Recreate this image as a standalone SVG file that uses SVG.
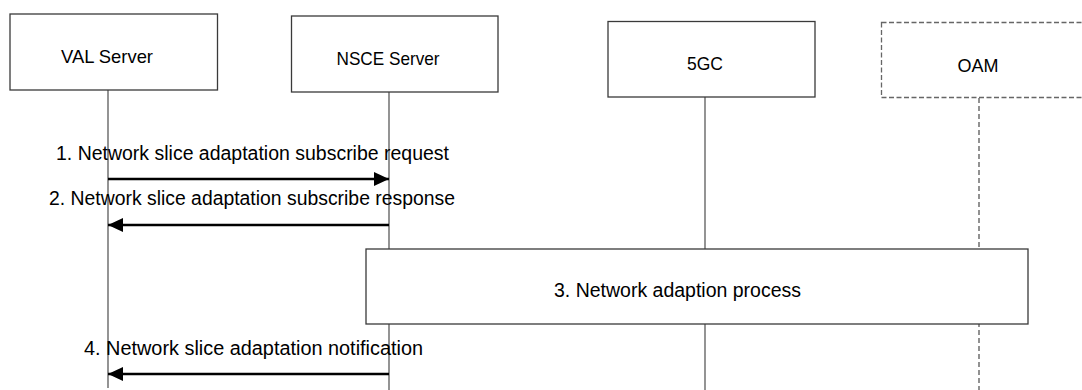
<svg xmlns="http://www.w3.org/2000/svg" width="1082" height="390" viewBox="0 0 1082 390">
<style>
.box{fill:#fff;stroke:#3a3a3a;stroke-width:1.3}
.dbox{fill:#fff;stroke:#666;stroke-width:1.3;stroke-dasharray:5,2.5}
.life{stroke:#5a5a5a;stroke-width:1.3;fill:none}
.dlife{stroke:#777;stroke-width:1.6;stroke-dasharray:5,3;fill:none}
.msg{stroke:#000;stroke-width:2.6;fill:none;marker-end:url(#ah)}
text{font-family:"Liberation Sans",Arial,sans-serif;fill:#000}
.nl{font-size:19px;text-anchor:middle}
.ml{font-size:19.5px}
</style>
<defs>
<marker id="ah" markerUnits="userSpaceOnUse" markerWidth="16" markerHeight="15" refX="15" refY="7" orient="auto">
<path d="M0,0 L15,7 L0,14 z" fill="#000"/>
</marker>
</defs>
<g id="lifelines">
<line class="life" x1="108" y1="90" x2="108" y2="388"/>
<line class="life" x1="389" y1="92" x2="389" y2="390"/>
<line class="life" x1="705" y1="97" x2="705" y2="390"/>
<line class="dlife" x1="979" y1="98" x2="979" y2="390"/>
</g>
<g id="val-server">
<rect class="box" x="10" y="14" width="207.5" height="76"/>
<text class="nl" x="107" y="63" textLength="92" lengthAdjust="spacingAndGlyphs">VAL Server</text>
</g>
<g id="nsce-server">
<rect class="box" x="291.5" y="16" width="206.5" height="76"/>
<text class="nl" x="388" y="65" textLength="103" lengthAdjust="spacingAndGlyphs">NSCE Server</text>
</g>
<g id="fivegc">
<rect class="box" x="608" y="21.5" width="207" height="75.5"/>
<text class="nl" x="705" y="70" textLength="36" lengthAdjust="spacingAndGlyphs">5GC</text>
</g>
<g id="oam">
<rect class="dbox" x="881.5" y="22.5" width="220" height="75"/>
<text class="nl" x="978" y="71.5" textLength="41" lengthAdjust="spacingAndGlyphs">OAM</text>
</g>
<g id="process">
<rect class="box" x="366" y="249" width="662" height="75"/>
<text class="ml" x="554" y="297" textLength="247" lengthAdjust="spacingAndGlyphs">3. Network adaption process</text>
</g>
<g id="connectors">
<line class="msg" x1="108" y1="179" x2="389" y2="179"/>
<line class="msg" x1="389" y1="225" x2="108" y2="225"/>
<line class="msg" x1="389" y1="374" x2="108" y2="374"/>
</g>
<g id="labels">
<text class="ml" x="56" y="160" textLength="393" lengthAdjust="spacingAndGlyphs">1. Network slice adaptation subscribe request</text>
<text class="ml" x="49" y="205" textLength="406" lengthAdjust="spacingAndGlyphs">2. Network slice adaptation subscribe response</text>
<text class="ml" x="84" y="355" textLength="339" lengthAdjust="spacingAndGlyphs">4. Network slice adaptation notification</text>
</g>
</svg>
